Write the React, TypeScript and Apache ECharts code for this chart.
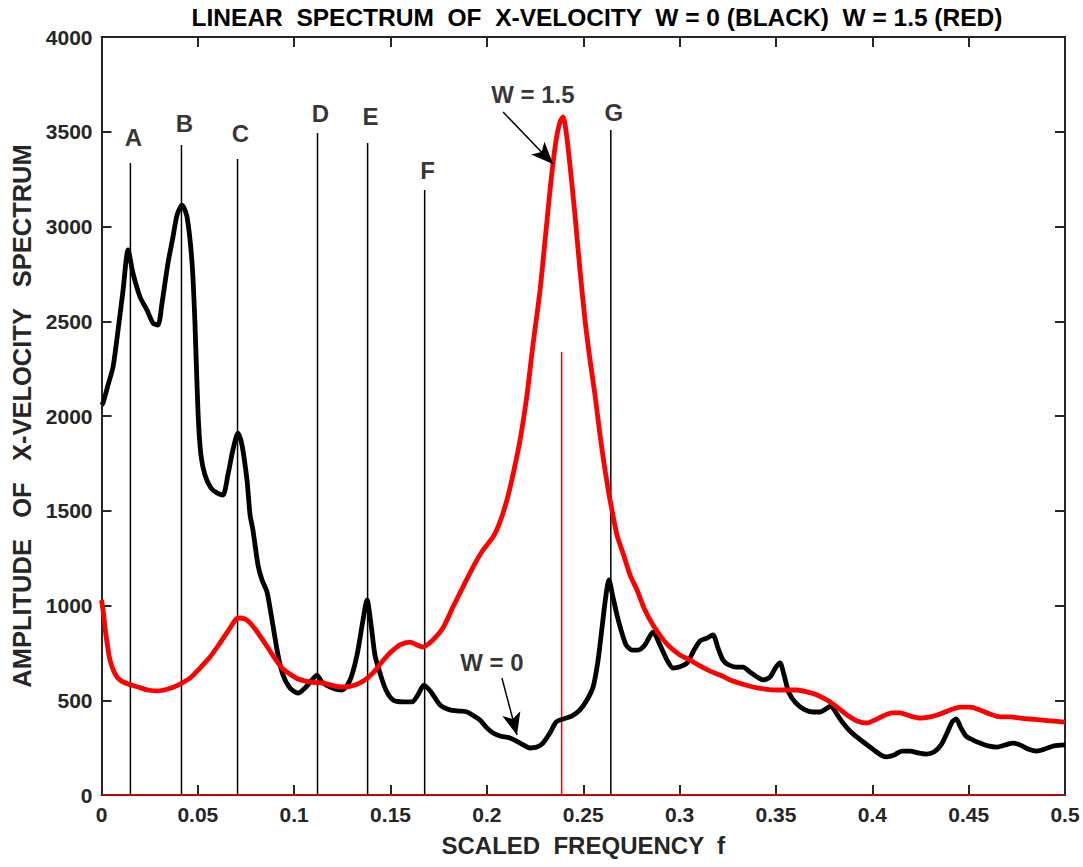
import React, { useEffect, useRef } from "react";
import * as echarts from "echarts";

const TITLE = "LINEAR  SPECTRUM  OF  X-VELOCITY  W = 0 (BLACK)  W = 1.5 (RED)";
const X_NAME = "SCALED  FREQUENCY  f";
const Y_NAME = "AMPLITUDE   OF   X-VELOCITY   SPECTRUM";

const X_MIN = 0;
const X_MAX = 0.5;
const X_STEP = 0.05;
const Y_MIN = 0;
const Y_MAX = 4000;
const Y_STEP = 500;

// W = 0 (black) spectrum: [scaled frequency, amplitude]
const blackW0: [number, number][] = [
  [0, 2058], [0.0008, 2069], [0.0034, 2164], [0.006, 2259], [0.0086, 2454], [0.0112, 2665],
  [0.0138, 2876], [0.0163, 2755], [0.02, 2628], [0.0236, 2559], [0.0267, 2491], [0.0293, 2480],
  [0.0314, 2596], [0.0345, 2807], [0.0371, 2945], [0.0392, 3060], [0.0418, 3113], [0.0444, 3050],
  [0.047, 2807], [0.0485, 2491], [0.0501, 2016], [0.0516, 1794], [0.0537, 1689], [0.0568, 1620],
  [0.0599, 1594], [0.063, 1583], [0.0656, 1689], [0.0682, 1821], [0.0708, 1910], [0.0729, 1847],
  [0.0755, 1662], [0.0771, 1478], [0.0786, 1398], [0.0812, 1214], [0.0833, 1135], [0.0859, 1071],
  [0.0885, 923], [0.0916, 739], [0.0942, 633], [0.0978, 565], [0.102, 538], [0.1056, 565],
  [0.1092, 607], [0.1118, 633], [0.1144, 596], [0.1186, 570], [0.1248, 554], [0.129, 607],
  [0.1326, 739], [0.1357, 923], [0.1378, 1029], [0.1399, 897], [0.1419, 739], [0.1445, 644],
  [0.1476, 554], [0.1513, 501], [0.1565, 491], [0.1611, 491], [0.1642, 528], [0.1673, 580],
  [0.171, 544], [0.1757, 475], [0.1808, 449], [0.186, 443], [0.1897, 438], [0.1933, 417],
  [0.1964, 396], [0.2, 354], [0.2032, 327], [0.2068, 311], [0.212, 301], [0.2172, 274],
  [0.2224, 248], [0.226, 253], [0.2291, 274], [0.2327, 327], [0.2359, 385], [0.2395, 401],
  [0.2442, 417], [0.2483, 449], [0.2519, 501], [0.2551, 570], [0.2577, 712], [0.2602, 923],
  [0.2618, 1055], [0.2633, 1135], [0.2654, 1045], [0.2675, 950], [0.2696, 871], [0.2722, 792],
  [0.2753, 765], [0.2784, 765], [0.282, 792], [0.2862, 860], [0.2898, 792], [0.2935, 712],
  [0.2966, 670], [0.2998, 675], [0.3039, 697], [0.3075, 765], [0.3106, 813], [0.3142, 828],
  [0.3173, 845], [0.3199, 776], [0.3225, 712], [0.3256, 686], [0.3293, 675], [0.3329, 675],
  [0.3365, 649], [0.3402, 623], [0.3433, 607], [0.3469, 623], [0.35, 675], [0.3521, 697],
  [0.3542, 633], [0.3568, 538], [0.3604, 485], [0.3651, 449], [0.3692, 438], [0.3729, 438],
  [0.376, 454], [0.3786, 470], [0.3812, 433], [0.3848, 380], [0.3884, 338], [0.3926, 301],
  [0.3967, 269], [0.4009, 237], [0.4045, 211], [0.4077, 201], [0.4113, 211], [0.4154, 232],
  [0.4196, 232], [0.4237, 222], [0.4279, 216], [0.432, 227], [0.4357, 264], [0.4388, 327],
  [0.4414, 385], [0.4435, 401], [0.446, 354], [0.4486, 311], [0.4523, 290], [0.4559, 274],
  [0.46, 259], [0.4647, 253], [0.4689, 264], [0.473, 274], [0.4767, 264], [0.4808, 243],
  [0.4855, 232], [0.4896, 243], [0.4943, 259], [0.5, 264],
];

// W = 1.5 (red) spectrum: [scaled frequency, amplitude]
const redW15: [number, number][] = [
  [0, 1029], [0.0008, 976], [0.0023, 844], [0.0044, 712], [0.007, 639], [0.0096, 607],
  [0.0138, 586], [0.0189, 570], [0.0241, 554], [0.0293, 549], [0.0345, 559], [0.0397, 580],
  [0.0459, 617], [0.0511, 670], [0.0563, 728], [0.0615, 802], [0.0667, 881], [0.0708, 934],
  [0.0745, 929], [0.0771, 908], [0.0812, 855], [0.0854, 792], [0.0895, 728], [0.0937, 670],
  [0.0978, 639], [0.102, 612], [0.1082, 596], [0.115, 591], [0.1212, 575], [0.1264, 570],
  [0.1316, 580], [0.1367, 607], [0.1409, 644], [0.1451, 697], [0.1497, 749], [0.1549, 792],
  [0.1601, 807], [0.1637, 792], [0.1668, 781], [0.172, 818], [0.1772, 881], [0.1824, 992],
  [0.1876, 1098], [0.1928, 1203], [0.198, 1293], [0.2032, 1361], [0.2068, 1441], [0.2104, 1557],
  [0.2135, 1689], [0.2172, 1873], [0.2208, 2111], [0.2239, 2375], [0.2276, 2665], [0.2307, 2982],
  [0.2333, 3245], [0.2359, 3456], [0.2379, 3551], [0.2395, 3578], [0.241, 3509], [0.2431, 3325],
  [0.2457, 3061], [0.2483, 2770], [0.2509, 2507], [0.2535, 2296], [0.2561, 2111], [0.2587, 1900],
  [0.2613, 1715], [0.2639, 1557], [0.2675, 1372], [0.2706, 1277], [0.2743, 1161], [0.2779, 1082],
  [0.282, 976], [0.2862, 897], [0.2909, 828], [0.295, 781], [0.3002, 739], [0.3054, 712],
  [0.3106, 681], [0.3158, 654], [0.321, 633], [0.3262, 607], [0.3324, 586], [0.3381, 570],
  [0.3443, 559], [0.3505, 554], [0.3557, 554], [0.3609, 554], [0.3661, 544], [0.3713, 528],
  [0.3765, 501], [0.3817, 464], [0.3869, 422], [0.3921, 391], [0.3973, 380], [0.4014, 396],
  [0.4056, 417], [0.4102, 433], [0.4144, 433], [0.4196, 417], [0.4248, 406], [0.43, 412],
  [0.4352, 427], [0.4404, 449], [0.4456, 464], [0.4508, 464], [0.4559, 449], [0.4611, 427],
  [0.4663, 412], [0.4715, 412], [0.4767, 406], [0.4819, 401], [0.487, 396], [0.4922, 391],
  [0.5, 385],
];

// red zero line along the bottom
const redBaseline: [number, number][] = [[0, 0], [0.5, 0]];

// vertical marker lines
const markerNames = ["A", "B", "C", "D", "E", "F", "G"];
const markerFreqs = [0.015, 0.0415, 0.0706, 0.1121, 0.1381, 0.1677, 0.2643];
const markerTops = [3335, 3430, 3356, 3493, 3441, 3193, 3509];
const markerLabelLevels = [3472, 3546, 3493, 3594, 3578, 3298, 3599];
const redMarkerFreq = 0.2388;
const redMarkerTop = 2338;

// arrow annotations
const annotTexts = ["W = 1.5", "W = 0"];
const annotTextPos: [number, number][] = [[0.2239, 3694], [0.2026, 697]];
const annotArrowFrom: [number, number][] = [[0.2084, 3604], [0.2078, 617]];
const annotArrowTo: [number, number][] = [[0.2343, 3330], [0.2156, 317]];

const FONT = "'Liberation Sans', Arial, Helvetica, sans-serif";
const AXIS_COLOR = "#262626";

export default function App() {
  const ref = useRef<HTMLDivElement>(null);

  useEffect(() => {
    if (!ref.current) return;
    const chart = echarts.init(ref.current, undefined, { renderer: "svg" });

    const markerSeries = markerFreqs.map((f, i) => ({
      type: "line",
      data: [[f, 0], [f, markerTops[i]]],
      showSymbol: false,
      symbol: "none",
      silent: true,
      lineStyle: { color: "#000", width: 1.5 },
      z: 2,
    }));

    const frameAxis = {
      axisLine: { show: true, onZero: false, lineStyle: { color: AXIS_COLOR, width: 2 } },
      axisTick: { show: true, inside: true, length: 10, lineStyle: { color: AXIS_COLOR, width: 2 } },
      splitLine: { show: false },
    };

    const option: any = {
      animation: false,
      backgroundColor: "#fff",
      title: {
        text: TITLE,
        left: 592,
        textAlign: "center",
        top: 0,
        textStyle: { fontFamily: FONT, fontWeight: "bold", fontSize: 24.5, color: "#000" },
      },
      grid: { left: 101.5, right: 18, top: 37, bottom: 72, containLabel: false },
      xAxis: [
        {
          type: "value",
          min: X_MIN,
          max: X_MAX,
          interval: X_STEP,
          name: X_NAME,
          nameLocation: "middle",
          nameGap: 38,
          nameTextStyle: { fontFamily: FONT, fontWeight: "bold", fontSize: 24, color: AXIS_COLOR },
          ...frameAxis,
          axisLabel: {
            fontFamily: FONT,
            fontWeight: "bold",
            fontSize: 21,
            color: AXIS_COLOR,
            margin: 9,
            formatter: (v: number) => String(v),
          },
        },
        {
          type: "value",
          position: "top",
          min: X_MIN,
          max: X_MAX,
          interval: X_STEP,
          ...frameAxis,
          axisLabel: { show: false },
        },
      ],
      yAxis: [
        {
          type: "value",
          min: Y_MIN,
          max: Y_MAX,
          interval: Y_STEP,
          name: Y_NAME,
          nameLocation: "middle",
          nameGap: 59,
          nameTextStyle: { fontFamily: FONT, fontWeight: "bold", fontSize: 25.5, color: AXIS_COLOR },
          ...frameAxis,
          axisLabel: {
            fontFamily: FONT,
            fontWeight: "bold",
            fontSize: 21,
            color: AXIS_COLOR,
            margin: 9,
            formatter: (v: number) => String(v),
          },
        },
        {
          type: "value",
          position: "right",
          min: Y_MIN,
          max: Y_MAX,
          interval: Y_STEP,
          ...frameAxis,
          axisLabel: { show: false },
        },
      ],
      series: [
        ...markerSeries,
        {
          type: "line",
          data: [[redMarkerFreq, 0], [redMarkerFreq, redMarkerTop]],
          showSymbol: false,
          symbol: "none",
          silent: true,
          lineStyle: { color: "#ff0000", width: 1.5 },
          z: 2,
        },
        {
          type: "line",
          data: blackW0,
          showSymbol: false,
          symbol: "none",
          smooth: 0.25,
          lineStyle: { color: "#000", width: 4.8, join: "round" },
          z: 3,
        },
        {
          type: "line",
          data: redW15,
          showSymbol: false,
          symbol: "none",
          smooth: 0.25,
          lineStyle: { color: "#ff0000", width: 4.8, join: "round" },
          z: 4,
        },
        {
          type: "line",
          data: redBaseline,
          showSymbol: false,
          symbol: "none",
          lineStyle: { color: "#ff0000", width: 1.5 },
          z: 5,
        },
        {
          type: "scatter",
          data: markerNames.map((n, i) => ({ name: n, value: [markerFreqs[i], markerLabelLevels[i]] })),
          symbolSize: 0,
          silent: true,
          label: {
            show: true,
            position: "inside",
            offset: [3, 0],
            formatter: (p: any) => p.name,
            fontFamily: FONT,
            fontWeight: "bold",
            fontSize: 24,
            color: "#000",
          },
          z: 6,
        },
        {
          type: "scatter",
          data: annotTexts.map((t, i) => ({ name: t, value: annotTextPos[i] })),
          symbolSize: 0,
          silent: true,
          label: {
            show: true,
            position: "inside",
            formatter: (p: any) => p.name,
            fontFamily: FONT,
            fontWeight: "bold",
            fontSize: 24,
            color: "#000",
          },
          markLine: {
            silent: true,
            animation: false,
            symbol: ["none", "arrow"],
            symbolSize: [14, 22],
            label: { show: false },
            lineStyle: { color: "#000", width: 1.5, type: "solid" },
            data: annotArrowFrom.map((from, i) => [
              { coord: from },
              { coord: annotArrowTo[i] },
            ]),
          },
          z: 6,
        },
      ],
    };

    chart.setOption(option);
    return () => chart.dispose();
  }, []);

  return (
    <div
      ref={ref}
      style={{ position: "fixed", left: 0, top: 0, width: 1083, height: 867, background: "#fff" }}
    />
  );
}
